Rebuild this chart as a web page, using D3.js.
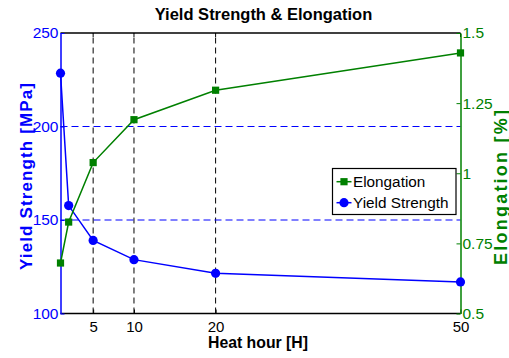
<!DOCTYPE html>
<html>
<head>
<meta charset="utf-8">
<script src="https://cdn.jsdelivr.net/npm/d3@7"></script>
<style>
  body { margin: 0; background: #fff; }
  text { font-family: "Liberation Sans", Arial, sans-serif; }
</style>
</head>
<body>
<div id="chart"></div>
<script>
// Data
var hours = [1, 2, 5, 10, 20, 50];
var yieldStrength = [228.5, 157.7, 139.1, 128.8, 121.5, 116.9];
var elongation = [0.68, 0.826, 1.038, 1.191, 1.296, 1.429];
var xTicks = [5, 10, 20, 50];
var yLeftTicks = [100, 150, 200, 250];
var yRightTicks = [0.5, 0.75, 1, 1.25, 1.5];
var yLeftGrid = [150, 200];
var xGrid = [5, 10, 20];

var width = 509, height = 358;
var margin = { left: 60.5, right: 48.5, top: 33, bottom: 44.5 };
var blue = '#0000ff', green = '#008000';

var svg = d3.select('#chart')
	.append('svg')
	.attr('width', width)
	.attr('height', height);

var x = d3.scaleLinear().domain([1, 50]).range([margin.left, width - margin.right]);
var yL = d3.scaleLinear().domain([100, 250]).range([height - margin.bottom, margin.top]);
var yR = d3.scaleLinear().domain([0.5, 1.5]).range([height - margin.bottom, margin.top]);

var x0 = margin.left, x1 = width - margin.right;
var y0 = height - margin.bottom, y1 = margin.top;

// Grid lines
svg.append('g').selectAll('line')
	.data(xGrid).enter().append('line')
	.attr('x1', d => x(d)).attr('x2', d => x(d))
	.attr('y1', y0).attr('y2', y1)
	.attr('stroke', '#000').attr('stroke-width', 1)
	.attr('stroke-dasharray', '6,4');

svg.append('g').selectAll('line')
	.data(yLeftGrid).enter().append('line')
	.attr('x1', x0).attr('x2', x1)
	.attr('y1', d => yL(d)).attr('y2', d => yL(d))
	.attr('stroke', blue).attr('stroke-width', 1)
	.attr('stroke-dasharray', '7,4');

// Box: top and bottom
svg.append('line').attr('x1', x0).attr('x2', x1).attr('y1', y1).attr('y2', y1)
	.attr('stroke', '#000').attr('stroke-width', 1.5);
svg.append('line').attr('x1', x0).attr('x2', x1).attr('y1', y0).attr('y2', y0)
	.attr('stroke', '#000').attr('stroke-width', 1.5);

// Bottom axis (inward ticks)
var xAxis = d3.axisBottom(x).tickValues(xTicks).tickSizeInner(-4).tickSizeOuter(0).tickPadding(8);
var gx = svg.append('g').attr('transform', 'translate(0,' + y0 + ')').call(xAxis);
gx.select('.domain').remove();
gx.selectAll('line').attr('stroke', '#000');
gx.selectAll('text').attr('fill', '#000').style('font-size', '15px');

// top ticks
svg.append('g').selectAll('line')
	.data(xTicks).enter().append('line')
	.attr('x1', d => x(d)).attr('x2', d => x(d))
	.attr('y1', y1).attr('y2', y1 + 4)
	.attr('stroke', '#000');

// Left axis
var yAxisL = d3.axisLeft(yL).tickValues(yLeftTicks).tickSizeInner(-4).tickSizeOuter(0).tickPadding(6);
var gl = svg.append('g').attr('transform', 'translate(' + x0 + ',0)').call(yAxisL);
gl.select('.domain').attr('stroke', blue).attr('stroke-width', 1.5);
gl.selectAll('line').attr('stroke', blue);
gl.selectAll('text').attr('fill', blue).style('font-size', '15.5px').attr('x', -2);

// Right axis
var yAxisR = d3.axisRight(yR).tickValues(yRightTicks).tickFormat(d => String(d))
	.tickSizeInner(-4).tickSizeOuter(0).tickPadding(6);
var gr = svg.append('g').attr('transform', 'translate(' + x1 + ',0)').call(yAxisR);
gr.select('.domain').attr('stroke', green).attr('stroke-width', 1.5);
gr.selectAll('line').attr('stroke', green);
gr.selectAll('text').attr('fill', green).style('font-size', '15.5px').attr('x', 2);

// Yield strength series
var lineL = d3.line().x((d, i) => x(hours[i])).y(d => yL(d));
svg.append('path').datum(yieldStrength)
	.attr('d', lineL).attr('fill', 'none')
	.attr('stroke', blue).attr('stroke-width', 1.5);
svg.append('g').selectAll('circle')
	.data(yieldStrength).enter().append('circle')
	.attr('cx', (d, i) => x(hours[i])).attr('cy', d => yL(d))
	.attr('r', 4.6).attr('fill', blue);

// Elongation series
var lineR = d3.line().x((d, i) => x(hours[i])).y(d => yR(d));
svg.append('path').datum(elongation)
	.attr('d', lineR).attr('fill', 'none')
	.attr('stroke', green).attr('stroke-width', 1.5);
svg.append('g').selectAll('rect')
	.data(elongation).enter().append('rect')
	.attr('x', (d, i) => x(hours[i]) - 3.6).attr('y', d => yR(d) - 3.6)
	.attr('width', 7.2).attr('height', 7.2).attr('fill', green);

// Title and axis labels
svg.append('text')
	.attr('x', (x0 + x1) / 2 + 3).attr('y', 19.5)
	.attr('text-anchor', 'middle')
	.style('font-size', '16.5px').style('font-weight', 'bold')
	.text('Yield Strength & Elongation');

svg.append('text')
	.attr('x', 258).attr('y', 347.5)
	.attr('text-anchor', 'middle')
	.style('font-size', '15.8px').style('font-weight', 'bold')
	.text('Heat hour [H]');

svg.append('text')
	.attr('transform', 'translate(32,176.5) rotate(-90)')
	.attr('text-anchor', 'middle')
	.attr('fill', blue)
	.attr('textLength', 187).attr('lengthAdjust', 'spacing')
	.style('font-size', '17px').style('font-weight', 'bold')
	.text('Yield Strength [MPa]');

svg.append('text')
	.attr('transform', 'translate(506.5,187.5) rotate(-90)')
	.attr('text-anchor', 'middle')
	.attr('fill', green)
	.attr('textLength', 155).attr('lengthAdjust', 'spacing')
	.style('font-size', '18px').style('font-weight', 'bold')
	.text('Elongation [%]');

// Legend
var legendItems = [
	{ name: 'Elongation', color: green, shape: 'square' },
	{ name: 'Yield Strength', color: blue, shape: 'circle' }
];
var lg = svg.append('g').attr('transform', 'translate(332.5,168.5)');
lg.append('rect')
	.attr('width', 123.5).attr('height', 46)
	.attr('fill', '#fff').attr('stroke', '#000').attr('stroke-width', 1.2);

var items = lg.selectAll('g.item').data(legendItems).enter().append('g')
	.attr('class', 'item')
	.attr('transform', (d, i) => 'translate(0,' + (13.2 + i * 21) + ')');
items.append('line')
	.attr('x1', 4).attr('x2', 19).attr('y1', 0).attr('y2', 0)
	.attr('stroke', d => d.color).attr('stroke-width', 1.5);
items.filter(d => d.shape === 'square').append('rect')
	.attr('x', 11.5 - 3.6).attr('y', -3.6).attr('width', 7.2).attr('height', 7.2)
	.attr('fill', d => d.color);
items.filter(d => d.shape === 'circle').append('circle')
	.attr('cx', 11.5).attr('cy', 0).attr('r', 4.6)
	.attr('fill', d => d.color);
items.append('text')
	.attr('x', 20.5).attr('y', 5.5)
	.style('font-size', '15.3px')
	.text(d => d.name);
</script>
</body>
</html>
